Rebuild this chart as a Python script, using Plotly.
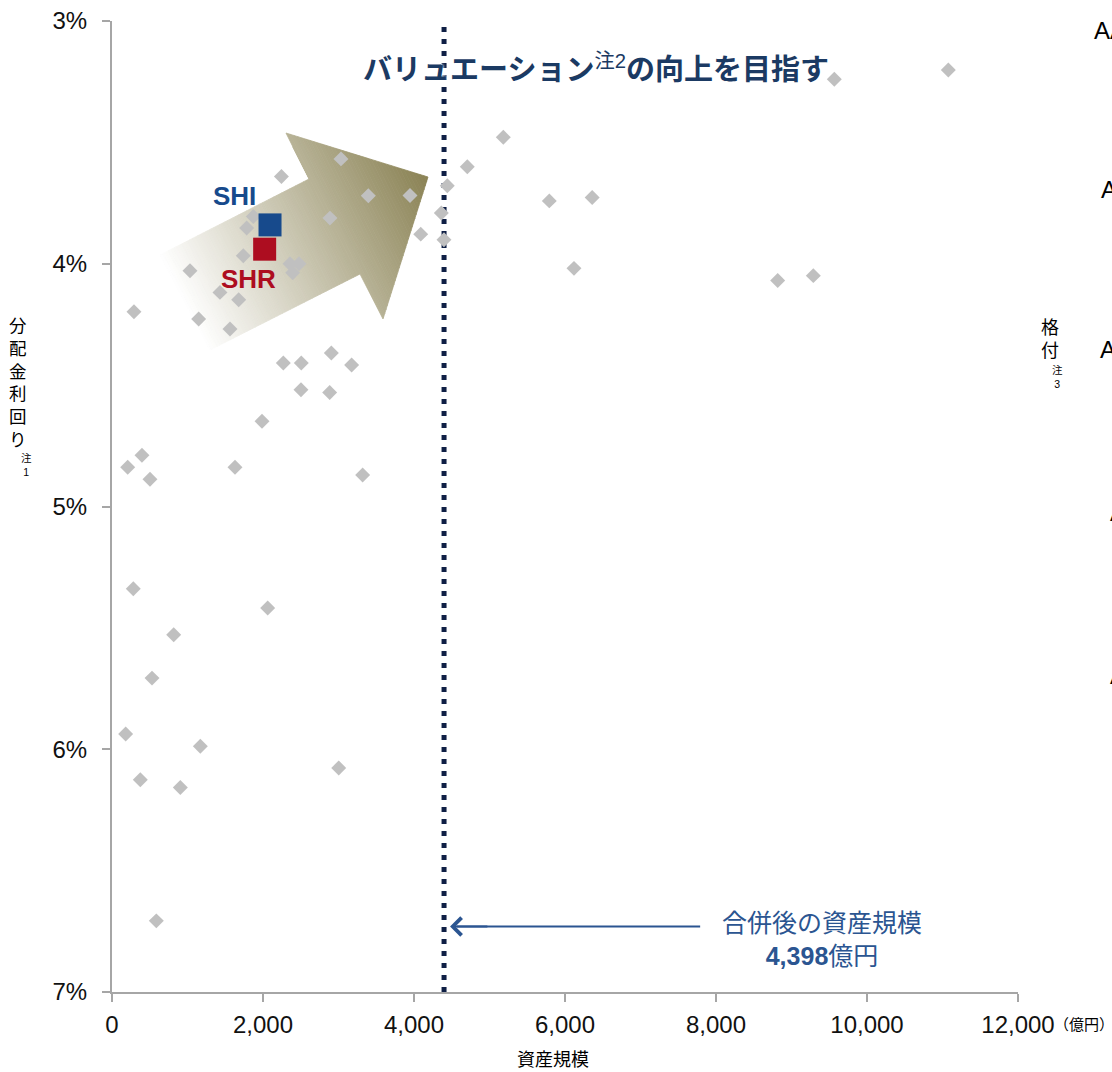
import plotly.graph_objects as go

# ---------------- data ----------------
PEER_ASSETS = [291, 208, 397, 503, 282, 817, 530, 181, 375, 905, 1170, 587,
               2062, 3003, 1987, 1629, 3320, 2503, 2883, 2269, 2507, 3174, 2905,
               1563, 1148, 1678, 1430, 1033, 2358, 2477, 2393, 1739, 1784, 1872,
               2887, 2244, 3033, 3395, 3947, 4089, 4362, 4397, 4441, 4706, 5183,
               5792, 6360, 6119, 8817, 9289, 9567, 11077]
PEER_YIELDS = [4.198, 4.838, 4.789, 4.888, 5.339, 5.528, 5.707, 5.937, 6.126, 6.158, 5.988, 6.707,
               5.418, 6.077, 4.649, 4.838, 4.870, 4.519, 4.530, 4.409, 4.409, 4.417, 4.368,
               4.269, 4.228, 4.148, 4.118, 4.029, 4.000, 4.000, 4.037, 3.967, 3.853, 3.805,
               3.812, 3.641, 3.568, 3.720, 3.719, 3.878, 3.791, 3.901, 3.679, 3.600, 3.479,
               3.741, 3.727, 4.019, 4.069, 4.049, 3.240, 3.202]

SHI_ASSETS = [2093]
SHI_YIELD = [3.84]
SHR_ASSETS = [2022]
SHR_YIELD = [3.94]

MERGED_ASSETS = 4398

X_TICKS = [0, 2000, 4000, 6000, 8000, 10000, 12000]
X_TICK_LABELS = ["0", "2,000", "4,000", "6,000", "8,000", "10,000", "12,000"]
Y_TICKS = [3, 4, 5, 6, 7]
Y_TICK_LABELS = ["3%", "4%", "5%", "6%", "7%"]
RATINGS = ["AA", "AA-", "A+", "A", "A-"]

# ---------------- styling / layout constants ----------------
W, H = 1112, 1072
ML, MR, MT, MB = 112, 94, 21, 80
PW, PH = W - ML - MR, H - MT - MB

FONT = "Liberation Sans, Arial, Noto Sans CJK JP, sans-serif"
AXIS_GREY = "#a6a6a6"
NAVY = "#1b3a63"
MID_BLUE = "#2b5591"
SHI_COLOR = "#174a8c"
SHR_COLOR = "#ad0d20"

# decorative gradient arrow outline (pixels inside plot area, origin top-left)
ARROW_OUTLINE = [(48, 234), (197, 158), (174, 112), (316, 156),
                 (271, 298), (248, 253), (98, 329)]
ARROW_START = (255, 255, 255)
ARROW_END = (138, 130, 84)


def clip_half(poly, u, val, keep_ge):
    out = []
    n = len(poly)
    for i in range(n):
        p, q = poly[i], poly[(i + 1) % n]
        tp = p[0] * u[0] + p[1] * u[1]
        tq = q[0] * u[0] + q[1] * u[1]
        inp = tp >= val if keep_ge else tp <= val
        inq = tq >= val if keep_ge else tq <= val
        if inp:
            out.append(p)
        if inp != inq:
            r = (val - tp) / (tq - tp)
            out.append((p[0] + r * (q[0] - p[0]), p[1] + r * (q[1] - p[1])))
    return out


def arrow_shapes():
    (x0, y0), (x1, y1) = ARROW_OUTLINE[0], ARROW_OUTLINE[1]
    dx, dy = x1 - x0, y1 - y0
    ln = (dx * dx + dy * dy) ** 0.5
    u = (dx / ln, dy / ln)
    ts = [p[0] * u[0] + p[1] * u[1] for p in ARROW_OUTLINE]
    tmin, tmax = min(ts), max(ts)
    n = 90
    shapes = []
    for i in range(n):
        a = tmin + (tmax - tmin) * i / n
        b = tmin + (tmax - tmin) * (i + 1) / n
        poly = clip_half(ARROW_OUTLINE, u, a, True)
        poly = clip_half(poly, u, b, False) if poly else []
        if len(poly) < 3:
            continue
        s = (i + 0.5) / n
        c = tuple(round(ARROW_START[k] + (ARROW_END[k] - ARROW_START[k]) * s) for k in range(3))
        col = "rgb(%d,%d,%d)" % c
        path = "M " + " L ".join("%.5f,%.5f" % (px / PW, 1 - py / PH) for px, py in poly) + " Z"
        shapes.append(dict(type="path", path=path, xref="paper", yref="paper",
                           fillcolor=col, line=dict(color=col, width=0.8), layer="below"))
    return shapes


fig = go.Figure()

fig.add_trace(go.Scatter(
    x=PEER_ASSETS, y=PEER_YIELDS, mode="markers",
    marker=dict(symbol="diamond", size=11.5, color="#c0c0c0", line=dict(width=0)),
    hoverinfo="skip", showlegend=False))
fig.add_trace(go.Scatter(
    x=SHR_ASSETS, y=SHR_YIELD, mode="markers",
    marker=dict(symbol="square", size=23, color=SHR_COLOR, line=dict(width=0)),
    showlegend=False))
fig.add_trace(go.Scatter(
    x=SHI_ASSETS, y=SHI_YIELD, mode="markers",
    marker=dict(symbol="square", size=23, color=SHI_COLOR, line=dict(width=0)),
    showlegend=False))

shapes = arrow_shapes()
shapes.append(dict(type="line", xref="x", yref="paper", x0=MERGED_ASSETS, x1=MERGED_ASSETS,
                   y0=0, y1=1, layer="below",
                   line=dict(color="#0f1f45", width=5, dash="5px,7px")))
# pointer from the label to the merged-asset line
shapes.append(dict(type="line", xref="x", yref="y", x0=MERGED_ASSETS + 170, x1=7790,
                   y0=6.73, y1=6.73, line=dict(color=MID_BLUE, width=2)))

annotations = []
# title
annotations.append(dict(
    xref="paper", yref="paper", x=(596 - ML) / PW, y=(MT + PH - 68) / PH,
    text="<b>バリュエーション</b><sup>注2</sup><b>の向上を目指す</b>",
    showarrow=False, xanchor="center", yanchor="middle",
    font=dict(family=FONT, size=29, color=NAVY,
              shadow="0px 0px 3px white, 0px 0px 3px white")))
# SHI / SHR labels
annotations.append(dict(x=SHI_ASSETS[0], y=SHI_YIELD[0], xref="x", yref="y",
                        text="<b>SHI</b>", showarrow=False, xshift=-36, yshift=29,
                        font=dict(family=FONT, size=26, color=SHI_COLOR)))
annotations.append(dict(x=SHR_ASSETS[0], y=SHR_YIELD[0], xref="x", yref="y",
                        text="<b>SHR</b>", showarrow=False, xshift=-16, yshift=-30,
                        font=dict(family=FONT, size=26, color=SHR_COLOR)))
# arrowhead (open chevron) at the merged asset line
annotations.append(dict(x=MERGED_ASSETS, y=6.73, xref="x", yref="y",
                        ax=MERGED_ASSETS + 600, ay=6.73, axref="x", ayref="y", text=" ",
                        showarrow=True, arrowhead=4, arrowsize=1.7, arrowwidth=2,
                        arrowcolor=MID_BLUE, standoff=6,
                        font=dict(family=FONT, size=2, color="rgba(0,0,0,0)")))
annotations.append(dict(x=9404, y=6.782, xref="x", yref="y",
                        text="合併後の資産規模<br><b>4,398</b>億円", showarrow=False,
                        xanchor="center", yanchor="middle", align="center",
                        font=dict(family=FONT, size=25, color=MID_BLUE)))
# y-axis title (vertical)
annotations.append(dict(xref="paper", yref="paper", x=0, y=(MT + PH - 383) / PH,
                        xshift=18 - ML, text="<br>".join("分配金利回り"), showarrow=False,
                        xanchor="center", yanchor="middle",
                        font=dict(family=FONT, size=17.5, color="#000000")))
annotations.append(dict(xref="paper", yref="paper", x=0, y=(MT + PH - 465) / PH,
                        xshift=26 - ML, text="注<br>1", showarrow=False,
                        xanchor="center", yanchor="middle",
                        font=dict(family=FONT, size=10.5, color="#000000")))
# right-side title (vertical)
annotations.append(dict(xref="paper", yref="paper", x=1, y=(MT + PH - 339) / PH,
                        xshift=1050 - (ML + PW), text="格<br>付", showarrow=False,
                        xanchor="center", yanchor="middle",
                        font=dict(family=FONT, size=18, color="#000000")))
annotations.append(dict(xref="paper", yref="paper", x=1, y=(MT + PH - 377) / PH,
                        xshift=1057 - (ML + PW), text="注<br>3", showarrow=False,
                        xanchor="center", yanchor="middle",
                        font=dict(family=FONT, size=10.5, color="#000000")))
# rating labels (cut by the page edge, as in the source)
RATING_PX = [(1092, 30), (1099, 190), (1098, 350), (1108, 512), (1108, 675)]
for lab, (px, py) in zip(RATINGS, RATING_PX):
    annotations.append(dict(xref="paper", yref="paper", x=1, y=(MT + PH - py) / PH,
                            xshift=px - (ML + PW), text=lab, showarrow=False,
                            xanchor="left", yanchor="middle",
                            font=dict(family=FONT, size=24, color="#000000")))
# x-axis title and unit
annotations.append(dict(xref="paper", yref="paper", x=(553 - ML) / PW, y=0, yshift=-68,
                        text="資産規模", showarrow=False, xanchor="center", yanchor="middle",
                        font=dict(family=FONT, size=18, color="#000000")))
annotations.append(dict(xref="paper", yref="paper", x=1, y=0, xshift=34, yshift=-32,
                        text="（億円）", showarrow=False, xanchor="left", yanchor="middle",
                        font=dict(family=FONT, size=15, color="#000000")))

fig.update_layout(
    width=W, height=H,
    margin=dict(l=ML, r=MR, t=MT, b=MB, pad=0, autoexpand=False),
    paper_bgcolor="white", plot_bgcolor="white",
    font=dict(family=FONT, size=24, color="#111111"),
    shapes=shapes, annotations=annotations,
    showlegend=False,
    xaxis=dict(range=[0, 12000], tickvals=X_TICKS, ticktext=X_TICK_LABELS, automargin=False,
               showgrid=False, zeroline=False, showline=True, linecolor=AXIS_GREY,
               linewidth=2, ticks="outside", ticklen=8, tickwidth=2, tickcolor=AXIS_GREY,
               tickfont=dict(family=FONT, size=24, color="#111111"), ticklabelstandoff=2),
    yaxis=dict(range=[7, 3], tickvals=Y_TICKS, ticktext=Y_TICK_LABELS, automargin=False,
               showgrid=False, zeroline=False, showline=True, linecolor=AXIS_GREY,
               linewidth=2, ticks="outside", ticklen=8, tickwidth=2, tickcolor=AXIS_GREY,
               tickfont=dict(family=FONT, size=24, color="#111111"), ticklabelstandoff=10),
)

fig.write_html("out.html")
